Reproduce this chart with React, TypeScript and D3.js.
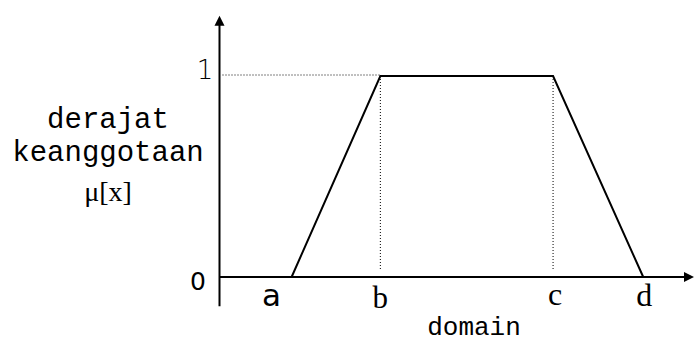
import React from "react";
import * as d3 from "d3";

// fungsi keanggotaan trapesium
const pointNames = ["a", "b", "c", "d"];
const pointValues = [15.2, 33.9, 70.3, 89.3];
const memberships = [0, 1, 1, 0];
const yTicks = [0, 1];

const W = 694;
const H = 343;

export default function App() {
  const x = d3.scaleLinear().domain([0, 100]).range([219.5, 694]);
  const y = d3.scaleLinear().domain([0, 1]).range([277, 76]);

  const pts: [number, number][] = pointValues.map((v, i) => [v, memberships[i]]);
  const line = d3
    .line<[number, number]>()
    .x((d) => x(d[0]))
    .y((d) => y(d[1]));

  const mono = "'Liberation Mono', 'Courier New', monospace";
  const serif = "'Liberation Serif', 'Times New Roman', serif";
  const sans = "'DejaVu Sans', sans-serif";

  const x0 = x(0);
  const yTop = y(1.3);
  const yBottom = y(-0.145);

  // label offsets tweaked by eye
  const labelDx = [-20, 0, 2, 1];
  const labelY = [306, 308, 305, 306];
  const labelFont = [sans, serif, serif, serif];
  const labelSize = [31, 31, 32, 32];

  return (
    <div style={{ position: "fixed", left: 0, top: 0 }}>
      <svg width={W} height={H} style={{ display: "block", background: "#fff" }}>
        {/* dotted guide lines */}
        <line
          x1={x0 + 3}
          x2={x(pointValues[1])}
          y1={y(1) - 1}
          y2={y(1) - 1}
          stroke="#000"
          strokeWidth={1}
          strokeDasharray="1,2"
        />
        {[1, 2].map((i) => (
          <line
            key={i}
            x1={x(pointValues[i])}
            x2={x(pointValues[i])}
            y1={y(1)}
            y2={y(0) - 6}
            stroke="#000"
            strokeWidth={1}
            strokeDasharray="1,2"
          />
        ))}

        {/* axes */}
        <line x1={x0} x2={x0} y1={yBottom} y2={yTop + 8} stroke="#000" strokeWidth={2} />
        <polygon
          points={`${x0},${yTop} ${x0 - 5},${yTop + 10} ${x0 + 5},${yTop + 10}`}
          fill="#000"
        />
        <line x1={x0} x2={W - 6} y1={y(0)} y2={y(0)} stroke="#000" strokeWidth={2} />
        <polygon
          points={`${W},${y(0)} ${W - 10},${y(0) - 5} ${W - 10},${y(0) + 5}`}
          fill="#000"
        />

        {/* trapezoid */}
        <path d={line(pts) || ""} fill="none" stroke="#000" strokeWidth={2} strokeLinejoin="miter" />

        {/* y tick labels */}
        {yTicks.map((t) => (
          <text
            key={t}
            x={t === 0 ? 198 : 205}
            y={y(t) + (t === 0 ? 13 : 3)}
            textAnchor="middle"
            fontFamily={sans}
            fontSize={t === 0 ? 25 : 26}
            fontWeight={t === 0 ? 400 : 300}
          >
            {t}
          </text>
        ))}

        {/* x point labels */}
        {pointNames.map((n, i) => (
          <text
            key={n}
            x={x(pointValues[i]) + labelDx[i]}
            y={labelY[i]}
            textAnchor="middle"
            fontFamily={labelFont[i]}
            fontSize={labelSize[i]}
          >
            {n}
          </text>
        ))}

        {/* axis titles */}
        <text x={474} y={335} textAnchor="middle" fontFamily={mono} fontSize={26}>
          domain
        </text>
        <text x={108} y={128} textAnchor="middle" fontFamily={mono} fontSize={29}>
          derajat
        </text>
        <text x={108} y={161} textAnchor="middle" fontFamily={mono} fontSize={29}>
          keanggotaan
        </text>
        <text x={108} y={201} textAnchor="middle" fontFamily={serif} fontSize={28}>
          μ[x]
        </text>
      </svg>
    </div>
  );
}
